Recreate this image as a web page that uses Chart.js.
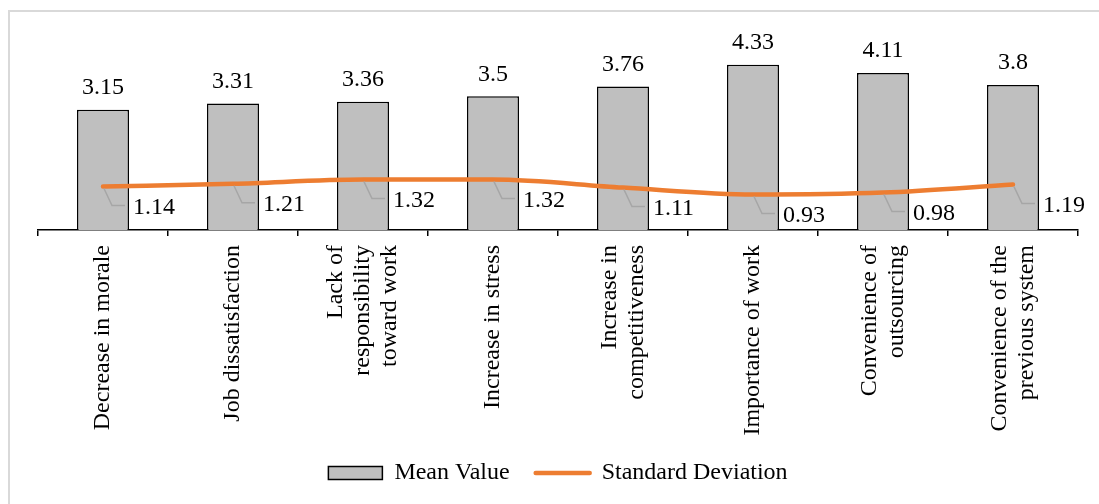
<!DOCTYPE html>
<html>
<head>
<meta charset="utf-8">
<script src="https://cdn.jsdelivr.net/npm/chart.js@4/dist/chart.umd.min.js"></script>
<style>
  html, body { margin: 0; padding: 0; background: #fff; }
  #wrap { position: relative; width: 1099px; height: 504px; }
  #frame { position: absolute; left: 8px; top: 10px; width: 1200px; height: 600px;
           border-top: 2px solid #d9d9d9; border-left: 2px solid #d9d9d9; box-sizing: border-box; }
  canvas { position: absolute; left: 0; top: 0; }
</style>
</head>
<body>
<div id="wrap">
  <div id="frame"></div>
  <canvas id="c" width="1099" height="504"></canvas>
</div>
<script>
const categories = [
  ["Decrease in morale"],
  ["Job dissatisfaction"],
  ["Lack of", "responsibility", "toward work"],
  ["Increase in stress"],
  ["Increase in", "competitiveness"],
  ["Importance of work"],
  ["Convenience of", "outsourcing"],
  ["Convenience of the", "previous system"]
];
const meanValues = [3.15, 3.31, 3.36, 3.5, 3.76, 4.33, 4.11, 3.8];
const stdValues = [1.14, 1.21, 1.32, 1.32, 1.11, 0.93, 0.98, 1.19];
const seriesNames = ["Mean Value", "Standard Deviation"];

const FONT = "'Liberation Serif', 'Times New Roman', serif";

const labelPlugin = {
  id: 'labelPlugin',
  afterDatasetsDraw(chart) {
    const ctx = chart.ctx;
    ctx.save();
    ctx.font = "24px " + FONT;
    ctx.fillStyle = '#000';
    // bar value labels
    const barMeta = chart.getDatasetMeta(0);
    barMeta.data.forEach((bar, i) => {
      ctx.textAlign = 'center';
      ctx.textBaseline = 'middle';
      ctx.fillText(String(meanValues[i]), bar.x, bar.y - 22);
    });
    // line value labels with leader lines
    const lineMeta = chart.getDatasetMeta(1);
    lineMeta.data.forEach((pt, i) => {
      ctx.strokeStyle = '#a6a6a6';
      ctx.lineWidth = 1.5;
      ctx.beginPath();
      ctx.moveTo(pt.x + 1, pt.y + 2);
      ctx.lineTo(pt.x + 9, pt.y + 19);
      ctx.lineTo(pt.x + 22, pt.y + 19);
      ctx.stroke();
      ctx.textAlign = 'left';
      ctx.textBaseline = 'middle';
      ctx.fillStyle = '#000';
      ctx.fillText(String(stdValues[i]), pt.x + 30, pt.y + 21);
    });
    // category labels (rotated, multi-line centered on tick)
    const xs = chart.scales.x;
    const lh = 27;
    categories.forEach((lines, i) => {
      const cx = xs.getPixelForValue(i);
      const n = lines.length;
      lines.forEach((line, j) => {
        const x = cx + (j - (n - 1) / 2) * lh;
        ctx.save();
        ctx.translate(x, xs.top + 15);
        ctx.rotate(-Math.PI / 2);
        ctx.textAlign = 'right';
        ctx.textBaseline = 'middle';
        ctx.fillText(line, 0, 0);
        ctx.restore();
      });
    });
    ctx.restore();
  }
};

new Chart(document.getElementById('c'), {
  type: 'bar',
  data: {
    labels: categories.map(c => c.join(' ')),
    datasets: [
      {
        type: 'bar',
        label: seriesNames[0],
        data: meanValues,
        backgroundColor: '#BFBFBF',
        borderColor: '#000000',
        borderWidth: 1.5,
        categoryPercentage: 1.0,
        barPercentage: 0.4,
        order: 1
      },
      {
        type: 'line',
        label: seriesNames[1],
        data: stdValues,
        borderColor: '#ED7D31',
        backgroundColor: '#ED7D31',
        borderWidth: 4.5,
        borderCapStyle: 'round',
        borderJoinStyle: 'round',
        pointRadius: 0,
        cubicInterpolationMode: 'monotone',
        fill: false,
        order: 0
      }
    ]
  },
  options: {
    responsive: false,
    animation: false,
    devicePixelRatio: 1,
    layout: { padding: { left: 38, right: 21, top: 20, bottom: 9 } },
    scales: {
      x: {
        offset: true,
        grid: { offset: true, drawOnChartArea: false, drawTicks: true, tickLength: 6, color: '#000', lineWidth: 1.5 },
        border: { color: '#000', width: 1.5 },
        ticks: { display: false },
        afterFit(scale) { scale.height = 205; }
      },
      y: {
        display: false,
        min: 0,
        max: 5.5
      }
    },
    plugins: {
      tooltip: { enabled: false },
      legend: {
        position: 'bottom',
        labels: {
          usePointStyle: true,
          pointStyleWidth: 54,
          boxHeight: 13,
          padding: 26,
          color: '#000',
          font: { family: FONT, size: 24 },
          generateLabels(chart) {
            const items = Chart.defaults.plugins.legend.labels.generateLabels(chart);
            items.forEach(it => {
              if (it.datasetIndex === 0) {
                it.pointStyle = 'rect';
                it.fillStyle = '#BFBFBF';
                it.strokeStyle = '#000';
                it.lineWidth = 1.5;
              } else {
                it.pointStyle = 'line';
                it.strokeStyle = '#ED7D31';
                it.lineWidth = 4.5;
                it.lineCap = 'round';
              }
            });
            return items.sort((a, b) => a.datasetIndex - b.datasetIndex);
          }
        }
      }
    }
  },
  plugins: [labelPlugin]
});
</script>
</body>
</html>
